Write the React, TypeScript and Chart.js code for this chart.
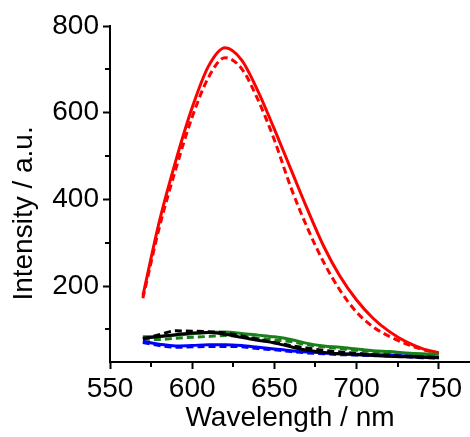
import React, { useEffect, useRef } from "react";
import { Chart, registerables } from "chart.js";

Chart.register(...registerables);

const wavelengths = [570, 580, 590, 600, 610, 620, 630, 640, 650, 660, 670, 680, 690, 700, 710, 720, 730, 740, 750];

const redSolid = [178, 349, 489, 612, 708, 750, 722, 650, 562, 470, 378, 292, 222, 168, 126, 95, 72, 56, 46];
const redDashed = [172, 335, 470, 590, 682, 727, 702, 630, 537, 428, 335, 255, 190, 140, 106, 84, 67, 54, 45];
const blackSolid = [80, 84, 88, 92, 93, 89, 82, 75, 69, 60, 52, 47, 44, 42, 40, 38, 37, 36, 35];
const blackDashed = [78, 88, 97, 96, 95, 92, 85, 77, 70, 63, 57, 52, 48, 45, 42, 40, 38, 36, 35];
const greenSolid = [83, 84, 87, 90, 93, 94, 91, 87, 83, 77, 68, 62, 59, 55, 51, 49, 46, 44, 43];
const greenDashed = [78, 77, 80, 82, 84, 86, 84, 80, 76, 72, 65, 60, 56, 52, 49, 46, 44, 42, 41];
const blueSolid = [73, 66, 62, 63, 65, 65, 63, 59, 55, 51, 48, 46, 44, 43, 42, 41, 39, 37, 36];
const blueDashed = [70, 63, 59, 60, 61, 61, 60, 56, 53, 49, 46, 44, 42, 41, 40, 39, 37, 35, 34];

const xMajorTicks = [550, 600, 650, 700, 750];
const xMinorTicks = [575, 625, 675, 725];
const yMajorTicks = [200, 400, 600, 800];
const yMinorTicks = [100, 300, 500, 700];

const X_MIN = 550;
const X_MAX = 769;
const Y_MIN = 25;
const Y_MAX = 800;

const FONT = "'Liberation Sans', Arial, sans-serif";

const toPoints = (ys: number[]) => wavelengths.map((x, i) => ({ x, y: ys[i] }));

const RED = "#ff0000";
const GREEN = "#1a801a";
const BLUE = "#0000ff";
const BLACK = "#000000";

const minorTicksPlugin = {
  id: "minorTicks",
  afterDraw(chart: any) {
    const ctx = chart.ctx;
    const xs = chart.scales.x;
    const ys = chart.scales.y;
    ctx.save();
    ctx.strokeStyle = "#000";
    ctx.lineWidth = 2;
    ctx.beginPath();
    xMinorTicks.forEach((v) => {
      const px = Math.round(xs.getPixelForValue(v));
      ctx.moveTo(px, xs.top);
      ctx.lineTo(px, xs.top + 5);
    });
    yMinorTicks.forEach((v) => {
      const py = Math.round(ys.getPixelForValue(v));
      ctx.moveTo(ys.right, py);
      ctx.lineTo(ys.right - 5, py);
    });
    ctx.stroke();
    ctx.restore();
  },
};

function ds(data: number[], color: string, dashed: boolean) {
  return {
    data: toPoints(data),
    borderColor: color,
    backgroundColor: color,
    borderWidth: 3,
    borderDash: dashed ? [7, 4] : [],
    pointRadius: 0,
    fill: false,
    cubicInterpolationMode: "monotone" as const,
  };
}

export default function App() {
  const canvasRef = useRef<HTMLCanvasElement | null>(null);

  useEffect(() => {
    if (!canvasRef.current) return;
    const chart = new Chart(canvasRef.current, {
      type: "line",
      data: {
        datasets: [
          ds(blackDashed, BLACK, true),
          ds(blackSolid, BLACK, false),
          ds(blueDashed, BLUE, true),
          ds(blueSolid, BLUE, false),
          ds(greenDashed, GREEN, true),
          ds(greenSolid, GREEN, false),
          ds(redDashed, RED, true),
          ds(redSolid, RED, false),
        ],
      },
      options: {
        responsive: false,
        animation: false,
        layout: { padding: { top: 26, right: 0, bottom: 0, left: 0 } },
        plugins: {
          legend: { display: false },
          tooltip: { enabled: false },
        },
        scales: {
          x: {
            type: "linear",
            min: X_MIN,
            max: X_MAX,
            afterBuildTicks: (scale: any) => {
              scale.ticks = xMajorTicks.map((v) => ({ value: v }));
            },
            afterFit: (scale: any) => {
              scale.height = 75;
            },
            border: { display: true, color: "#000", width: 2 },
            grid: {
              display: true,
              drawOnChartArea: false,
              drawTicks: true,
              tickLength: 7,
              tickWidth: 2,
              tickColor: "#000",
            },
            ticks: {
              color: "#000",
              padding: 3,
              maxRotation: 0,
              autoSkip: false,
              font: { family: FONT, size: 28 },
              callback: (v: any) => String(v),
            },
            title: {
              display: true,
              text: "Wavelength / nm",
              color: "#000",
              padding: { top: 0, bottom: 2 },
              font: { family: FONT, size: 28 },
            },
          },
          y: {
            type: "linear",
            min: Y_MIN,
            max: Y_MAX,
            afterBuildTicks: (scale: any) => {
              scale.ticks = yMajorTicks.map((v) => ({ value: v }));
            },
            afterFit: (scale: any) => {
              scale.width = 110;
            },
            border: { display: true, color: "#000", width: 2 },
            grid: {
              display: true,
              drawOnChartArea: false,
              drawTicks: true,
              tickLength: 7,
              tickWidth: 2,
              tickColor: "#000",
            },
            ticks: {
              color: "#000",
              padding: 4,
              autoSkip: false,
              font: { family: FONT, size: 28 },
              callback: (v: any) => String(v),
            },
            title: {
              display: true,
              text: "Intensity / a.u.     ",
              color: "#000",
              padding: { top: 7, bottom: 0 },
              font: { family: FONT, size: 28 },
            },
          },
        },
      },
      plugins: [minorTicksPlugin],
    });
    return () => chart.destroy();
  }, []);

  return (
    <div style={{ position: "absolute", left: 0, top: 0, width: 470, height: 437, background: "#fff" }}>
      <canvas ref={canvasRef} width={470} height={437} style={{ display: "block" }} />
    </div>
  );
}
